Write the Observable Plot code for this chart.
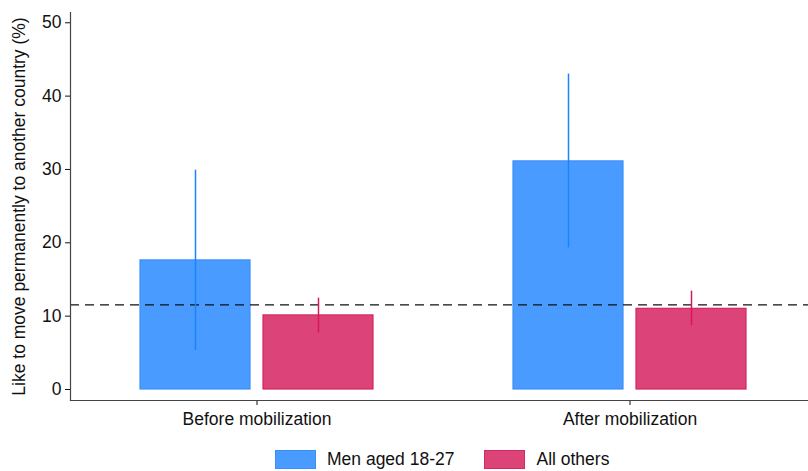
<!DOCTYPE html>
<html>
<head>
<meta charset="utf-8">
<script src="https://cdn.jsdelivr.net/npm/d3@7"></script>
<script src="https://cdn.jsdelivr.net/npm/@observablehq/plot@0.6"></script>
<style>
  body { margin: 0; background: #fff; font-family: "Liberation Sans", Arial, sans-serif; }
  #legend { display: flex; align-items: center; padding-left: 275px; margin-top: 10px; font-size: 17.5px; line-height: 19px; color: #111; }
  .item { display: flex; align-items: center; margin-right: 30px; }
  .sw { width: 39px; height: 17px; margin-right: 11px; }
  #chart svg text { font-size: 17.5px; }
</style>
</head>
<body>
<div id="chart"></div>
<div id="legend"></div>
<script>
const periods = ["Before mobilization", "After mobilization"];
const groups = ["Men aged 18-27", "All others"];
const menValues = [17.6, 31.1];
const menLow = [5.3, 19.3];
const menHigh = [29.9, 43.0];
const otherValues = [10.1, 11.0];
const otherLow = [7.7, 8.7];
const otherHigh = [12.45, 13.4];
const refLine = 11.55;
const yTicks = [0, 10, 20, 30, 40, 50];

const fills = ["#4A9BFF", "#DC4379"];
const strokes = ["#3A8FF7", "#D6275F"];
const errColors = ["#1A84FF", "#D41858"];

const rows = [];
periods.forEach((p, i) => {
  rows.push({period: p, group: groups[0], value: menValues[i], lo: menLow[i], hi: menHigh[i]});
  rows.push({period: p, group: groups[1], value: otherValues[i], lo: otherLow[i], hi: otherHigh[i]});
});

const chart = Plot.plot({
  width: 808,
  height: 440,
  marginLeft: 70,
  marginRight: -8,
  marginTop: 12,
  marginBottom: 40,
  style: {fontFamily: "'Liberation Sans', Arial, sans-serif", fontSize: "17.5px", color: "#111", background: "#fff"},
  fx: {domain: periods, padding: 0, label: null, axis: "bottom", tickSize: 5, tickPadding: 7},
  x: {domain: groups, paddingInner: 0.105, paddingOuter: 0.557, axis: null},
  y: {domain: [-1.5, 51.4], ticks: yTicks, tickSize: 5, tickPadding: 4,
      label: "Like to move permanently to another country (%)", labelAnchor: "center", labelOffset: 58, labelArrow: "none"},
  color: {domain: groups, range: fills},
  marks: [
    Plot.barY(rows, {fx: "period", x: "group", y: "value", fill: "group",
      stroke: d => strokes[groups.indexOf(d.group)], strokeWidth: 1.2}),
    Plot.ruleY([refLine], {stroke: "#111", strokeWidth: 1.3, strokeDasharray: "9,6"}),
    Plot.ruleX(rows, {fx: "period", x: "group", y1: "lo", y2: "hi",
      stroke: d => errColors[groups.indexOf(d.group)], strokeWidth: 1.5}),
    Plot.frame({anchor: "left", facetAnchor: "left", stroke: "#444", strokeWidth: 1.2}),
    Plot.frame({anchor: "bottom", stroke: "#444", strokeWidth: 1.2})
  ]
});
document.getElementById("chart").appendChild(chart);

const legend = document.getElementById("legend");
groups.forEach((g, i) => {
  const item = document.createElement("div");
  item.className = "item";
  const sw = document.createElement("div");
  sw.className = "sw";
  sw.style.background = fills[i];
  sw.style.border = "1px solid " + strokes[i];
  const lab = document.createElement("span");
  lab.textContent = g;
  item.appendChild(sw);
  item.appendChild(lab);
  legend.appendChild(item);
});
</script>
</body>
</html>
